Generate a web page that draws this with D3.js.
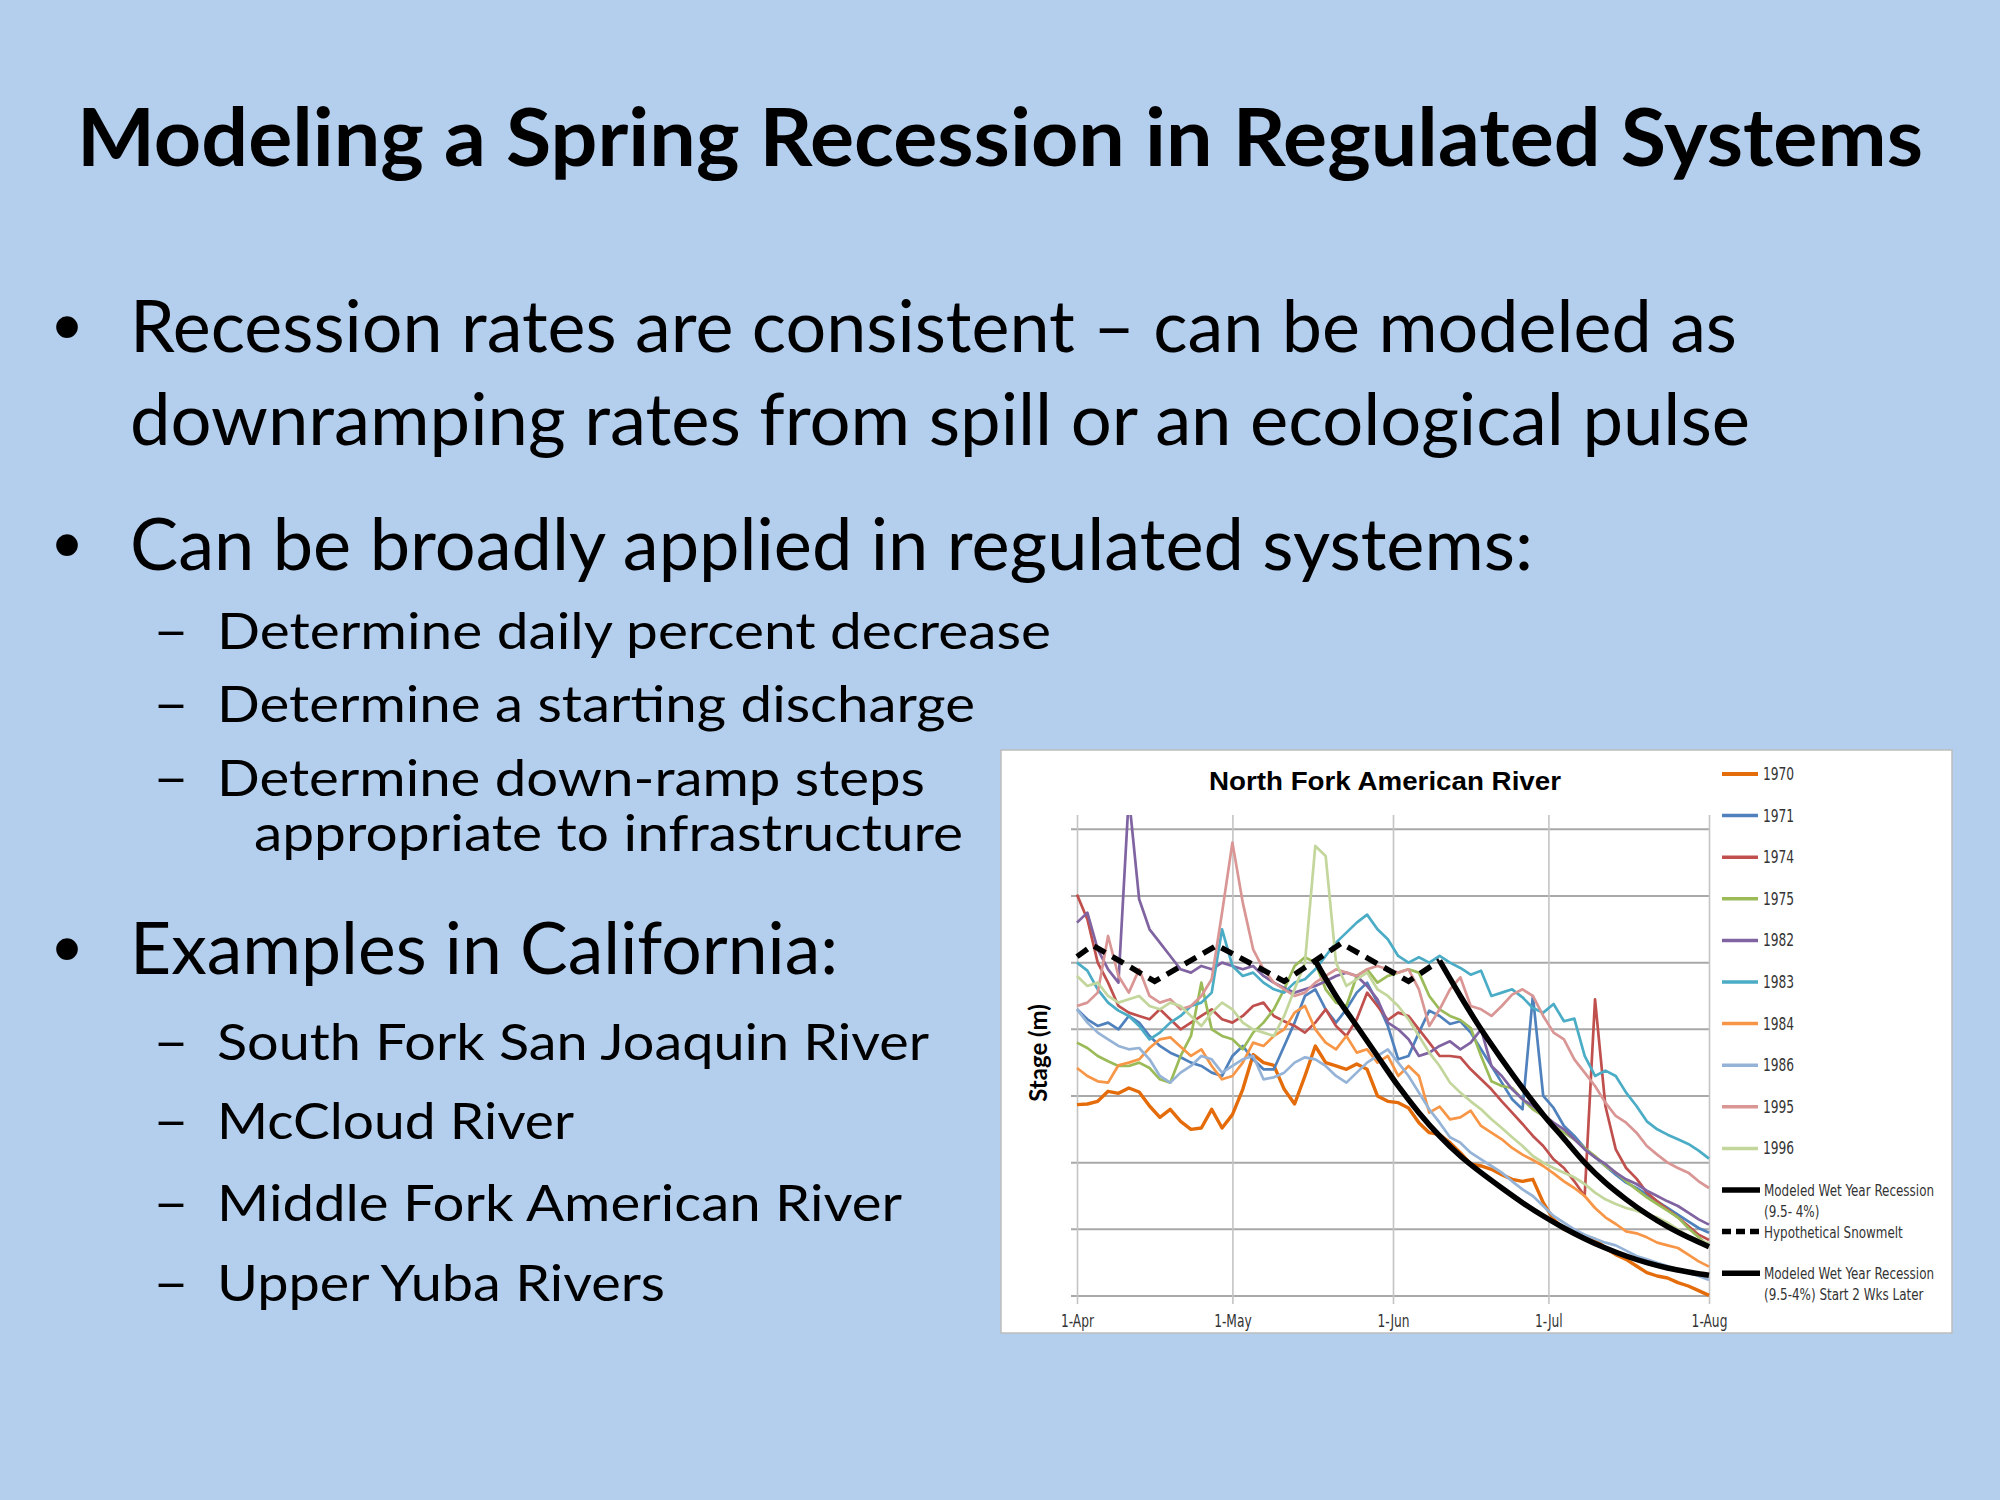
<!DOCTYPE html>
<html>
<head>
<meta charset="utf-8">
<script src="https://cdn.jsdelivr.net/npm/d3@7/dist/d3.min.js"></script>
<style>
  body { margin: 0; background: #B4CFEE; }
  svg { display: block; }
</style>
</head>
<body>
<svg width="2000" height="1500"></svg>
<script>
// ---- slide text ----
const slideTitle = "Modeling a Spring Recession in Regulated Systems";
const bulletLines = [
  { level: 1, bullet: true,  text: "Recession rates are consistent \u2013 can be modeled as" },
  { level: 1, bullet: false, text: "downramping rates from spill or an ecological pulse" },
  { level: 1, bullet: true,  text: "Can be broadly applied in regulated systems:" },
  { level: 2, bullet: true,  text: "Determine daily percent decrease" },
  { level: 2, bullet: true,  text: "Determine a starting discharge" },
  { level: 2, bullet: true,  text: "Determine down-ramp steps" },
  { level: 3, bullet: false, text: "appropriate to infrastructure" },
  { level: 1, bullet: true,  text: "Examples in California:" },
  { level: 2, bullet: true,  text: "South Fork San Joaquin River" },
  { level: 2, bullet: true,  text: "McCloud River" },
  { level: 2, bullet: true,  text: "Middle Fork American River" },
  { level: 2, bullet: true,  text: "Upper Yuba Rivers" }
];

// ---- chart data ----
const chartTitle = "North Fork American River";
const yLabel = "Stage (m)";
const monthTicks = ["1-Apr", "1-May", "1-Jun", "1-Jul", "1-Aug"];
const startDate = new Date(2001, 3, 1);
const stepDays = 2; // one value every 2 days, Apr 1 .. Aug 1

const years = ["1970", "1971", "1974", "1975", "1982", "1983", "1984", "1986", "1995", "1996"];
const yearColors = ["#E46C0A", "#4F81BD", "#C0504D", "#9BBB59", "#8064A2",
                    "#4BACC6", "#F79646", "#95B3D7", "#D99694", "#C3D69B"];

const s1970 = [2.87,2.88,2.92,3.07,3.04,3.12,3.06,2.85,2.68,2.80,2.62,2.50,2.52,2.80,2.52,2.72,3.10,3.62,3.50,3.46,3.10,2.88,3.30,3.75,3.50,3.45,3.40,3.48,3.40,3.00,2.92,2.90,2.82,2.60,2.45,2.42,2.30,2.15,1.98,1.95,1.90,1.82,1.75,1.72,1.75,1.40,1.15,1.00,0.95,0.90,0.85,0.72,0.62,0.55,0.45,0.35,0.30,0.27,0.20,0.15,0.08,0.01];
const s1971 = [4.30,4.15,4.05,4.10,4.00,4.20,4.10,3.90,3.75,3.65,3.58,3.50,3.45,3.35,3.30,3.60,3.75,3.55,3.40,3.40,3.75,4.10,4.50,4.60,4.30,4.10,4.30,4.55,4.70,4.40,4.05,3.55,3.60,3.95,4.28,4.20,4.08,4.12,3.95,3.70,3.45,3.20,2.95,2.80,4.50,3.00,2.82,2.55,2.40,2.22,2.08,1.95,1.82,1.70,1.62,1.52,1.42,1.32,1.22,1.12,1.02,0.95];
const s1974 = [6.02,5.65,5.00,4.70,4.35,4.25,4.20,4.15,4.30,4.15,4.00,4.10,4.20,4.30,4.15,4.10,4.20,4.35,4.40,4.20,4.12,4.05,3.95,4.10,4.30,4.05,3.90,4.15,4.55,4.35,4.14,4.25,4.20,4.00,3.80,3.60,3.60,3.58,3.40,3.25,3.10,2.92,2.75,2.58,2.40,2.25,2.05,1.92,1.72,1.50,4.45,2.85,2.20,1.92,1.76,1.55,1.42,1.30,1.18,1.05,0.92,0.84];
const s1975 = [3.80,3.72,3.60,3.52,3.45,3.45,3.50,3.42,3.25,3.20,3.60,3.90,4.70,4.00,3.90,3.85,3.70,3.95,4.10,4.30,4.60,4.95,5.08,5.00,4.60,4.40,4.35,4.80,4.90,4.70,4.80,4.85,4.90,4.85,4.50,4.30,4.20,4.14,4.02,3.60,3.22,3.15,3.12,2.95,2.80,2.70,2.55,2.45,2.35,2.22,2.10,1.95,1.85,1.72,1.60,1.48,1.38,1.28,1.18,1.02,0.88,0.75];
const s1982 = [5.60,5.75,5.20,4.90,4.70,7.50,5.95,5.50,5.30,5.10,4.90,4.85,4.95,4.90,5.00,4.95,4.90,4.95,4.80,4.70,4.62,4.55,4.60,4.65,4.72,4.80,4.85,4.80,4.65,4.45,4.10,4.00,3.85,3.60,3.65,3.75,3.82,3.70,3.80,4.00,3.45,3.30,3.10,2.95,2.85,2.72,2.60,2.50,2.35,2.20,2.08,1.98,1.85,1.75,1.68,1.58,1.50,1.42,1.35,1.25,1.15,1.07];
const s1983 = [5.00,4.88,4.60,4.40,4.28,4.20,4.05,3.85,3.95,4.10,4.20,4.35,4.40,4.55,5.50,4.95,4.80,4.85,4.70,4.60,4.55,4.70,4.75,4.90,5.10,5.30,5.45,5.60,5.72,5.50,5.35,5.10,5.00,5.08,5.00,5.10,5.00,4.92,4.82,4.88,4.50,4.55,4.60,4.48,4.32,4.25,4.38,4.12,4.16,3.60,3.30,3.38,3.30,3.05,2.85,2.62,2.50,2.42,2.35,2.28,2.18,2.06];
const s1984 = [3.42,3.30,3.22,3.20,3.46,3.50,3.55,3.72,3.85,3.88,3.74,3.60,3.70,3.45,3.25,3.30,3.50,3.80,3.75,3.90,4.00,4.25,4.35,4.00,3.80,3.70,3.90,3.65,3.70,3.50,3.60,3.30,3.45,3.30,2.75,2.84,2.65,2.68,2.78,2.55,2.45,2.35,2.22,2.12,2.04,1.95,1.84,1.72,1.62,1.50,1.32,1.18,1.08,0.97,0.94,0.88,0.80,0.76,0.72,0.62,0.52,0.44];
const s1986 = [4.30,4.10,3.95,3.85,3.75,3.70,3.72,3.55,3.30,3.20,3.35,3.45,3.60,3.55,3.35,3.45,3.55,3.60,3.25,3.28,3.35,3.50,3.58,3.55,3.45,3.30,3.20,3.35,3.50,3.60,3.70,3.50,3.30,3.05,2.80,2.60,2.38,2.30,2.15,2.05,1.95,1.85,1.72,1.60,1.50,1.35,1.20,1.10,1.00,0.92,0.86,0.80,0.76,0.68,0.60,0.55,0.50,0.45,0.40,0.35,0.30,0.24];
const s1995 = [4.35,4.40,4.55,5.40,4.80,4.55,4.90,4.50,4.40,4.45,4.30,4.35,4.50,4.75,5.75,6.80,5.90,5.20,4.90,4.70,4.60,4.50,4.55,4.70,4.80,4.90,4.85,4.80,4.90,4.95,4.90,4.85,4.90,4.60,4.05,4.30,4.60,4.78,4.35,4.30,4.20,4.35,4.52,4.60,4.50,4.20,3.95,3.85,3.55,3.35,3.15,2.90,2.70,2.60,2.45,2.25,2.12,2.00,1.92,1.85,1.72,1.62];
const s1996 = [4.80,4.65,4.70,4.50,4.40,4.45,4.50,4.35,4.30,4.40,4.35,4.20,4.05,4.25,4.40,4.30,4.10,4.00,3.95,3.90,4.20,4.60,5.00,6.75,6.60,5.00,4.65,4.75,4.85,4.60,4.50,4.35,4.15,3.90,3.65,3.45,3.20,3.05,2.92,2.80,2.65,2.52,2.38,2.25,2.10,2.00,1.92,1.85,1.78,1.68,1.55,1.45,1.38,1.32,1.28,1.22,1.18,1.10,1.00,0.90,0.84,0.79];
const yearSeries = [s1970, s1971, s1974, s1975, s1982, s1983, s1984, s1986, s1995, s1996];

// hypothetical snowmelt (dashed) vertices
const snowDays   = [0, 3.4, 15.7, 27.7, 40, 51.7, 64, 70.1];
const snowValues = [5.09, 5.26, 4.72, 5.26, 4.72, 5.29, 4.72, 5.03];

// modeled wet year recession
const recessDays   = [46, 50, 54, 58, 62, 66, 70, 74, 78, 82, 86, 90, 94, 98, 102, 106, 110, 114, 118, 122];
const recessValues = [5.03, 4.5, 4.05, 3.6, 3.15, 2.75, 2.4, 2.1, 1.85, 1.62, 1.4, 1.2, 1.02, 0.86, 0.72, 0.6, 0.5, 0.42, 0.36, 0.31];
// modeled recession starting 2 weeks later
const lateDays   = [70, 74, 78, 82, 86, 90, 94, 98, 102, 106, 110, 114, 118, 122];
const lateValues = [5.03, 4.5, 4.0, 3.55, 3.12, 2.72, 2.36, 2.0, 1.7, 1.45, 1.23, 1.04, 0.88, 0.74];

const legendExtra = [
  { lines: ["Modeled Wet Year Recession", "(9.5- 4%)"], dash: null },
  { lines: ["Hypothetical Snowmelt"], dash: "9,5" },
  { lines: ["Modeled Wet Year Recession", "(9.5-4%) Start 2 Wks Later"], dash: null }
];

const svg = d3.select("svg");
const bodyFont = "Lato, 'Open Sans', sans-serif";
const narrowFont = "'Liberation Sans Narrow', 'DejaVu Sans Condensed', 'Arial Narrow', sans-serif";

// squeeze a text horizontally to mimic the condensed chart font
function squeeze(sel, factor) {
    sel.each(function () {
        const len = this.getComputedTextLength();
        d3.select(this).attr("textLength", len * factor).attr("lengthAdjust", "spacingAndGlyphs");
    });
}

// ---- slide text ----
svg.append("text")
    .attr("x", 1000).attr("y", 166)
    .attr("text-anchor", "middle")
    .attr("textLength", 1846).attr("lengthAdjust", "spacingAndGlyphs")
    .style("font-family", bodyFont).style("font-weight", 700).style("font-size", "80px")
    .text(slideTitle);

const baselines = [352, 445, 570, 649, 722, 796, 851, 974, 1060, 1139, 1221, 1301];
const widths    = [1607, 1620, 1403, 834, 758, 708, 709, 708, 712, 357, 685, 448];
const textX = { 1: 130, 2: 217, 3: 254 };

bulletLines.forEach((d, i) => {
    const size = d.level == 1 ? 72 : 51;
    svg.append("text")
        .attr("x", textX[d.level]).attr("y", baselines[i])
        .attr("textLength", widths[i]).attr("lengthAdjust", "spacingAndGlyphs")
        .style("font-family", bodyFont).style("font-size", size + "px")
        .text(d.text);
    if (d.bullet) {
        if (d.level == 1) {
            svg.append("text")
                .attr("x", 53).attr("y", baselines[i] + 2)
                .style("font-family", "'Liberation Sans', Arial, sans-serif").style("font-size", "80px")
                .text("\u2022");
        } else {
            svg.append("text")
                .attr("x", 153).attr("y", baselines[i])
                .attr("textLength", 36).attr("lengthAdjust", "spacingAndGlyphs")
                .style("font-family", bodyFont).style("font-size", "53px")
                .text("\u2013");
        }
    }
});

// ---- chart panel ----
svg.append("rect")
    .attr("x", 1001).attr("y", 750)
    .attr("width", 951).attr("height", 583)
    .style("fill", "#fff").style("stroke", "#bdbdbd").style("stroke-width", 1.5);

const plotLeft = 1077, plotRight = 1709, plotTop = 815, plotBottom = 1296;
const endDate = d3.timeDay.offset(startDate, 122);

const x = d3.scaleTime().domain([startDate, endDate]).range([plotLeft, plotRight]);
const y = d3.scaleLinear().domain([0, 7]).range([plotBottom, 829.3]);
const dayToDate = (d) => d3.timeDay.offset(startDate, d);

const grid = svg.append("g");
// horizontal gridlines
grid.selectAll("line.h")
    .data(d3.range(0, 8))
    .enter().append("line")
    .attr("x1", plotLeft - 6).attr("x2", plotRight)
    .attr("y1", (d) => y(d)).attr("y2", (d) => y(d))
    .style("stroke", "#a9a9a9").style("stroke-width", 2);

// x axis: month gridlines with labels
const xAxis = d3.axisBottom(x)
    .ticks(d3.timeMonth.every(1))
    .tickSize(-(plotBottom - plotTop) - 8)
    .tickFormat((d, i) => monthTicks[i]);

const xg = svg.append("g")
    .attr("transform", "translate(0," + (plotBottom + 8) + ")")
    .call(xAxis);
xg.select(".domain").remove();
xg.selectAll(".tick line").style("stroke", "#c4c4c4").style("stroke-width", 1.6);
xg.selectAll(".tick text")
    .attr("dy", "1.15em")
    .style("font-family", narrowFont).style("font-size", "17px").style("fill", "#333")
    .call(squeeze, 0.8);

// y label
svg.append("text")
    .attr("transform", "translate(1047,1053) rotate(-90)")
    .attr("text-anchor", "middle")
    .style("font-family", bodyFont).style("font-weight", 700).style("font-size", "24px")
    .text(yLabel);

// chart title
svg.append("text")
    .attr("x", 1385).attr("y", 790)
    .attr("text-anchor", "middle")
    .attr("textLength", 352).attr("lengthAdjust", "spacingAndGlyphs")
    .style("font-family", "'Liberation Sans', Arial, sans-serif").style("font-weight", 700).style("font-size", "25px")
    .text(chartTitle);

// ---- lines ----
svg.append("clipPath").attr("id", "plotClip")
    .append("rect").attr("x", plotLeft - 3).attr("y", plotTop)
    .attr("width", plotRight - plotLeft + 6).attr("height", plotBottom - plotTop + 6);

const plot = svg.append("g").attr("clip-path", "url(#plotClip)");

const yearLine = d3.line()
    .x((d, i) => x(dayToDate(i * stepDays)))
    .y((d) => y(d));

plot.selectAll("path.year")
    .data(yearSeries)
    .enter().append("path")
    .attr("d", yearLine)
    .style("fill", "none")
    .style("stroke", (d, i) => yearColors[i])
    .style("stroke-width", (d, i) => i == 0 ? 3.4 : 2.7)
    .style("stroke-linejoin", "round");

const pairLine = d3.line()
    .x((d) => x(dayToDate(d[0])))
    .y((d) => y(d[1]));

plot.append("path")
    .attr("d", pairLine(d3.zip(snowDays, snowValues)))
    .style("fill", "none").style("stroke", "#000")
    .style("stroke-width", 5.5).style("stroke-dasharray", "13,8");

const smoothLine = pairLine.curve(d3.curveMonotoneX);
[d3.zip(recessDays, recessValues), d3.zip(lateDays, lateValues)].forEach((pts) => {
    plot.append("path")
        .attr("d", smoothLine(pts))
        .style("fill", "none").style("stroke", "#000").style("stroke-width", 5.5);
});

// ---- legend ----
const legend = svg.append("g");
const legY = (i) => 774 + i * 41.6;

years.forEach((yr, i) => {
    legend.append("line")
        .attr("x1", 1722).attr("x2", 1758)
        .attr("y1", legY(i)).attr("y2", legY(i))
        .style("stroke", yearColors[i]).style("stroke-width", i == 0 ? 4 : 3.5);
    legend.append("text")
        .attr("x", 1763).attr("y", legY(i) + 6)
        .style("font-family", narrowFont).style("font-size", "17px").style("fill", "#333")
        .text(yr)
        .call(squeeze, 0.8);
});

legendExtra.forEach((item, k) => {
    const cy = legY(years.length + k);
    legend.append("line")
        .attr("x1", 1722).attr("x2", 1760)
        .attr("y1", cy).attr("y2", cy)
        .style("stroke", "#000").style("stroke-width", 5.5)
        .style("stroke-dasharray", item.dash);
    item.lines.forEach((t, j) => {
        legend.append("text")
            .attr("x", 1764).attr("y", cy + 6 + j * 21)
            .style("font-family", narrowFont).style("font-size", "16px").style("fill", "#333")
            .text(t)
            .call(squeeze, 0.83);
    });
});
</script>
</body>
</html>
